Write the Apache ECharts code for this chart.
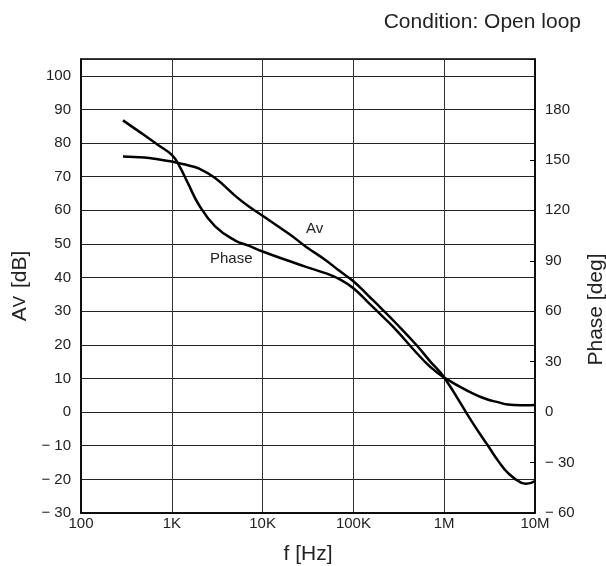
<!DOCTYPE html>
<html>
<head>
<meta charset="utf-8">
<script src="https://cdn.jsdelivr.net/npm/echarts@6/dist/echarts.min.js"></script>
<style>
html,body{margin:0;padding:0;background:#fff;}
#chart{width:606px;height:566px;}
</style>
</head>
<body>
<div id="chart"></div>
<script>
// Frequencies (Hz)
var freq = [290, 500, 700, 1000, 1200, 1500, 2000, 3000, 5000, 7000, 10000, 20000, 30000, 50000, 70000, 100000, 150000, 200000, 300000, 500000, 700000, 1e6, 2e6, 3e6, 4e6, 5e6, 7e6, 8e6, 1e7];
// Open-loop gain Av (dB)
var av = [76, 75.7, 75.2, 74.5, 74.0, 73.4, 72.4, 69.6, 64.3, 61.2, 58.4, 52.8, 49.2, 45.1, 42.0, 38.9, 34.3, 31.0, 26.2, 19.8, 15.1, 10.3, -2.7, -9.8, -14.8, -18.0, -21.0, -21.3, -20.5];
// Phase (deg)
var phase = [173.5, 164.6, 159, 153, 146.8, 136.3, 123, 110.5, 102, 99, 95.5, 89.7, 86.4, 82.5, 79.1, 73.7, 64.5, 58, 48.5, 35, 27, 20.5, 11.5, 7.5, 5.8, 4.5, 4.1, 4.1, 4.2];
// X tick labels by decade exponent
var xTickLabels = {2: '100', 3: '1K', 4: '10K', 5: '100K', 6: '1M', 7: '10M'};

var FONT = "'Liberation Sans', Arial, Helvetica, sans-serif";

function pairs(xs, ys) {
  return xs.map(function (x, i) { return [x, ys[i]]; });
}
function signed(v) {
  return v < 0 ? '\u2212 ' + Math.abs(v) : String(v);
}

var chart = echarts.init(document.getElementById('chart'), null, {renderer: 'canvas'});
chart.setOption({
  backgroundColor: '#fff',
  animation: false,
  title: {
    text: 'Condition: Open loop',
    right: 25,
    top: 12,
    padding: 0,
    textStyle: {fontFamily: FONT, fontSize: 21, fontWeight: 'normal', color: '#222'}
  },
  grid: {
    left: 81, right: 71, top: 59, bottom: 53,
    containLabel: false, outerBoundsMode: 'none',
    show: true, borderColor: '#000', borderWidth: 1.5, backgroundColor: 'transparent'
  },
  xAxis: {
    type: 'log',
    logBase: 10,
    min: 100,
    max: 1e7,
    name: 'f [Hz]',
    nameLocation: 'middle',
    nameGap: 31,
    nameTextStyle: {fontFamily: FONT, fontSize: 21, color: '#222'},
    axisLine: {show: true, onZero: false, lineStyle: {color: '#000', width: 1.5}},
    axisTick: {show: false},
    minorTick: {show: false},
    splitLine: {show: true, lineStyle: {color: '#333', width: 1}},
    axisLabel: {
      fontFamily: FONT, fontSize: 15, color: '#222', margin: 3,
      formatter: function (v) {
        var e = Math.round(Math.log(v) / Math.LN10);
        return xTickLabels[e] || '';
      }
    }
  },
  yAxis: [
    {
      type: 'value',
      min: -30,
      max: 105,
      interval: 10,
      position: 'left',
      name: '{a|A}{v|V}{a| [dB]}',
      nameLocation: 'middle',
      nameGap: 38,
      nameTextStyle: {
        fontFamily: FONT, color: '#222',
        rich: {
          a: {fontFamily: FONT, fontSize: 21, color: '#222'},
          v: {fontFamily: FONT, fontSize: 17, color: '#222', padding: [0, 2, 0, 0]}
        }
      },
      axisLine: {show: true, onZero: false, lineStyle: {color: '#000', width: 1.5}},
      axisTick: {show: false},
      splitLine: {show: true, lineStyle: {color: '#222', width: 1}},
      axisLabel: {
        fontFamily: FONT, fontSize: 15, color: '#222', margin: 10,
        formatter: function (v) { return v > 100 ? '' : signed(v); }
      }
    },
    {
      type: 'value',
      min: -60,
      max: 210,
      interval: 30,
      position: 'right',
      name: 'Phase [deg]',
      nameLocation: 'middle',
      nameGap: 48,
      nameRotate: 90,
      nameTextStyle: {fontFamily: FONT, fontSize: 21, color: '#222', padding: [0, 47, 0, 0]},
      axisLine: {show: true, onZero: false, lineStyle: {color: '#000', width: 1.5}},
      axisTick: {show: true, inside: true, length: 5, lineStyle: {color: '#000', width: 1}},
      splitLine: {show: false},
      axisLabel: {
        fontFamily: FONT, fontSize: 15, color: '#222', margin: 10,
        formatter: function (v) { return v > 180 ? '' : signed(v); }
      }
    }
  ],
  graphic: [
    {type: 'text', left: 306, top: 221, style: {text: 'Av', fontFamily: FONT, fontSize: 15, fill: '#222'}},
    {type: 'text', left: 210, top: 251, style: {text: 'Phase', fontFamily: FONT, fontSize: 15, fill: '#222'}}
  ],
  series: [
    {
      name: 'Av',
      type: 'line',
      yAxisIndex: 0,
      data: pairs(freq, av),
      smooth: 0.45,
      showSymbol: false,
      lineStyle: {color: '#000', width: 2.5}
    },
    {
      name: 'Phase',
      type: 'line',
      yAxisIndex: 1,
      data: pairs(freq, phase),
      smooth: 0.45,
      showSymbol: false,
      lineStyle: {color: '#000', width: 2.5}
    }
  ]
});
</script>
</body>
</html>
